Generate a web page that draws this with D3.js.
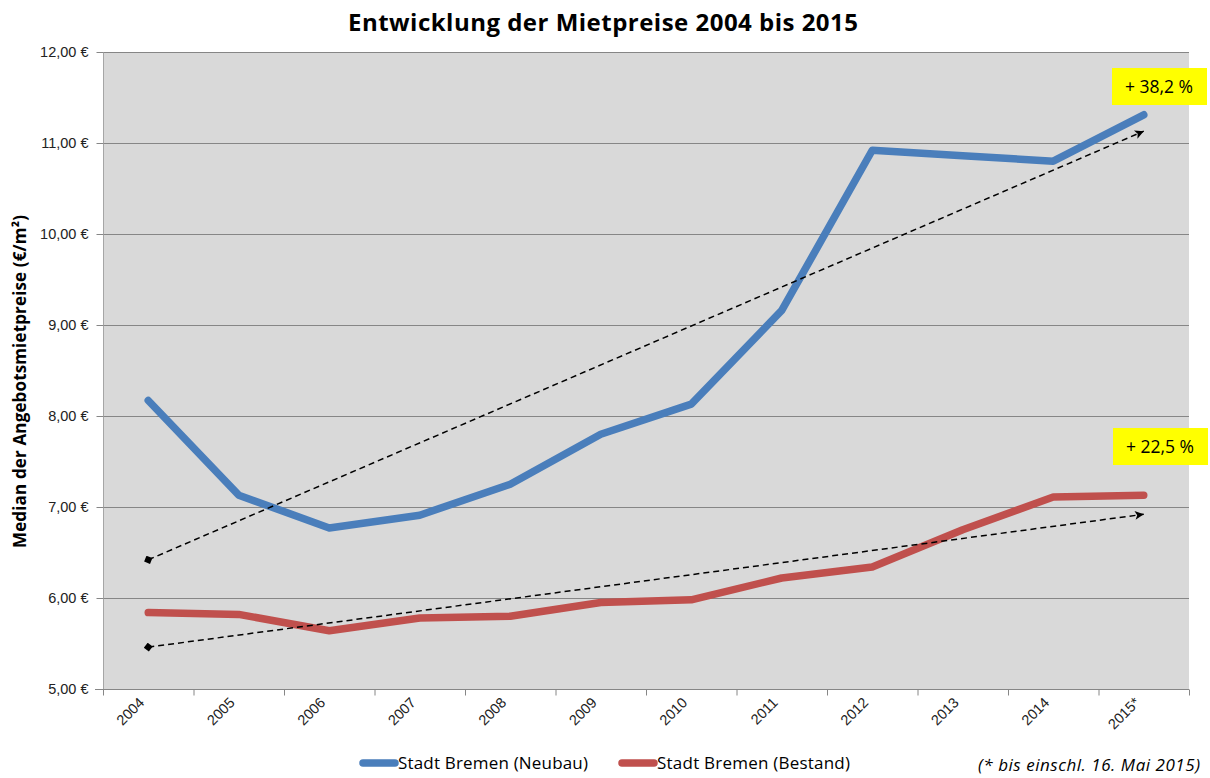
<!DOCTYPE html>
<html>
<head>
<meta charset="utf-8">
<script src="https://cdn.jsdelivr.net/npm/d3@7"></script>
<style>
  body { margin: 0; background: #fff; }
  svg { display: block; font-family: "Open Sans", "Liberation Sans", sans-serif; }
</style>
</head>
<body>
<svg id="chart" width="1210" height="778"></svg>
<script>
// data
const years = ["2004", "2005", "2006", "2007", "2008", "2009", "2010", "2011", "2012", "2013", "2014", "2015*"];
const neubau = [8.17, 7.13, 6.77, 6.91, 7.25, 7.80, 8.13, 9.16, 10.92, 10.86, 10.80, 11.31];
const bestand = [5.84, 5.82, 5.64, 5.78, 5.80, 5.95, 5.98, 6.22, 6.34, 6.75, 7.11, 7.13];
const trendNeubau = [6.42, 11.13];
const trendBestand = [5.46, 6.92];
const yTicks = [5, 6, 7, 8, 9, 10, 11, 12];
const seriesNames = ["Stadt Bremen (Neubau)", "Stadt Bremen (Bestand)"];
const changeLabels = ["+ 38,2 %", "+ 22,5 %"];

const svg = d3.select("#chart");
const plot = { left: 103, right: 1189, top: 52, bottom: 689 };

const x = d3.scaleBand().domain(years).range([plot.left, plot.right]);
const cx = d => x(d) + x.bandwidth() / 2;
const y = d3.scaleLinear().domain([5, 12]).range([plot.bottom, plot.top]);

// title
svg.append("text")
    .attr("x", 603).attr("y", 31)
    .attr("text-anchor", "middle")
    .attr("font-size", 24).attr("font-weight", "bold")
    .attr("textLength", 510)
    .text("Entwicklung der Mietpreise 2004 bis 2015");

// plot background
svg.append("rect")
    .attr("x", plot.left).attr("y", plot.top)
    .attr("width", plot.right - plot.left).attr("height", plot.bottom - plot.top)
    .attr("fill", "#d9d9d9");

// gridlines
svg.append("g")
    .selectAll("line")
    .data(yTicks.filter(t => t > 5))
    .enter().append("line")
    .attr("x1", plot.left).attr("x2", plot.right)
    .attr("y1", d => y(d) + 0.5).attr("y2", d => y(d) + 0.5)
    .attr("stroke", "#868686");

// y axis
const yAxis = svg.append("g")
    .attr("transform", `translate(${plot.left + 0.5},0)`)
    .call(d3.axisLeft(y).tickValues(yTicks).tickSize(7).tickPadding(8)
        .tickFormat(d => d3.format(".2f")(d).replace(".", ",") + " €"));
yAxis.selectAll("line, path").attr("stroke", "#868686");
yAxis.select(".domain").attr("d", `M0,${plot.top}V${plot.bottom}`).attr("stroke", "#a6a6a6");
yAxis.selectAll("text").attr("font-size", 14.5).attr("fill", "#222")
    .attr("font-family", "Liberation Sans, sans-serif");

// y axis title
svg.append("text")
    .attr("transform", `translate(26,${(plot.top + plot.bottom) / 2 + 11}) rotate(-90)`)
    .attr("text-anchor", "middle")
    .attr("font-size", 17).attr("font-weight", "bold")
    .attr("textLength", 333)
    .text("Median der Angebotsmietpreise (€/m²)");

// x axis
const xAxis = svg.append("g")
    .attr("transform", `translate(0,${plot.bottom + 0.5})`);
xAxis.append("line")
    .attr("x1", plot.left - 8).attr("x2", plot.right)
    .attr("stroke", "#868686");
xAxis.selectAll(".tick")
    .data(years.concat([null]))
    .enter().append("line")
    .attr("x1", (d, i) => plot.left + i * x.bandwidth() + 0.5)
    .attr("x2", (d, i) => plot.left + i * x.bandwidth() + 0.5)
    .attr("y1", 0).attr("y2", 6)
    .attr("stroke", "#868686");
xAxis.selectAll("text")
    .data(years)
    .enter().append("text")
    .attr("transform", d => `translate(${cx(d) - 3},${14}) rotate(-45)`)
    .attr("text-anchor", "end")
    .attr("font-size", 14.5)
    .attr("fill", "#222")
    .attr("font-family", "Liberation Sans, sans-serif")
    .text(d => d);

// series lines
const line = d3.line()
    .x((d, i) => cx(years[i]))
    .y(d => y(d));

svg.append("path")
    .datum(bestand)
    .attr("d", line)
    .attr("fill", "none").attr("stroke", "#c0504d")
    .attr("stroke-width", 7.5).attr("stroke-linecap", "round").attr("stroke-linejoin", "round");

svg.append("path")
    .datum(neubau)
    .attr("d", line)
    .attr("fill", "none").attr("stroke", "#4a7ebb")
    .attr("stroke-width", 7.5).attr("stroke-linecap", "round").attr("stroke-linejoin", "round");

// trend arrows
const defs = svg.append("defs");
defs.append("marker")
    .attr("id", "arrow").attr("viewBox", "0 0 10 10")
    .attr("refX", 9).attr("refY", 5)
    .attr("markerWidth", 11).attr("markerHeight", 11)
    .attr("markerUnits", "userSpaceOnUse")
    .attr("orient", "auto")
    .append("path").attr("d", "M1,1 L9,5 L1,9 L3,5 Z").attr("fill", "#000");
defs.append("marker")
    .attr("id", "diamond").attr("viewBox", "0 0 10 10")
    .attr("refX", 5).attr("refY", 5)
    .attr("markerWidth", 9).attr("markerHeight", 9)
    .attr("markerUnits", "userSpaceOnUse")
    .attr("orient", "auto")
    .append("path").attr("d", "M0,5 L5,0 L10,5 L5,10 Z").attr("fill", "#000");

[trendNeubau, trendBestand].forEach(t => {
    svg.append("line")
        .attr("x1", cx(years[0])).attr("y1", y(t[0]))
        .attr("x2", cx(years[years.length - 1])).attr("y2", y(t[1]))
        .attr("stroke", "#000").attr("stroke-width", 1.5)
        .attr("stroke-dasharray", "6,4")
        .attr("marker-start", "url(#diamond)")
        .attr("marker-end", "url(#arrow)");
});

// change labels
const labelPos = [[1112, 68], [1113, 428]];
changeLabels.forEach((t, i) => {
    const g = svg.append("g").attr("transform", `translate(${labelPos[i][0]},${labelPos[i][1]})`);
    g.append("rect").attr("width", 95).attr("height", 37).attr("fill", "#ffff00");
    g.append("text").attr("x", 47).attr("y", 25)
        .attr("text-anchor", "middle").attr("font-size", 17.5)
        .text(t);
});

// legend
const legend = svg.append("g").attr("transform", "translate(0,763)");
const legendX = [361, 620];
const colors = ["#4a7ebb", "#c0504d"];
seriesNames.forEach((n, i) => {
    legend.append("line")
        .attr("x1", legendX[i] + 2).attr("x2", legendX[i] + 34)
        .attr("stroke", colors[i]).attr("stroke-width", 7.5).attr("stroke-linecap", "round");
    legend.append("text")
        .attr("x", legendX[i] + 37).attr("y", 6)
        .attr("font-size", 17)
        .attr("textLength", i === 0 ? 190 : 193)
        .text(n);
});

// footnote
svg.append("text")
    .attr("x", 1200).attr("y", 771)
    .attr("text-anchor", "end")
    .attr("font-size", 17).attr("font-style", "italic")
    .attr("textLength", 222)
    .text("(* bis einschl. 16. Mai 2015)");
</script>
</body>
</html>
